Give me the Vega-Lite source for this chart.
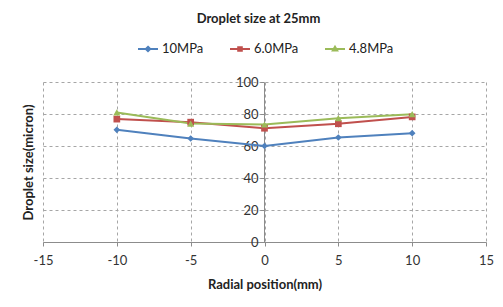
{
  "$schema": "https://vega.github.io/schema/vega-lite/v6.json",
  "width": 443,
  "height": 160,
  "autosize": {"type": "none"},
  "padding": {"left": 43, "top": 82, "right": 17, "bottom": 65},
  "background": "white",
  "config": {
    "font": "Lato",
    "view": {"stroke": null},
    "axis": {"labelFont": "Lato", "titleFont": "Lato", "labelColor": "#333333", "titleColor": "#222222"}
  },
  "title": {"text": "Droplet size at 25mm", "anchor": "middle", "font": "Lato", "fontSize": 13, "fontWeight": "bold", "color": "#222222", "offset": 12, "dx": -6},
  "data": {
    "values": [
      {"series": "10MPa", "x": -10, "y": 70.1},
      {"series": "10MPa", "x": -5, "y": 64.7},
      {"series": "10MPa", "x": 0, "y": 60.0},
      {"series": "10MPa", "x": 5, "y": 65.3},
      {"series": "10MPa", "x": 10, "y": 68.0},
      {"series": "6.0MPa", "x": -10, "y": 76.8},
      {"series": "6.0MPa", "x": -5, "y": 74.9},
      {"series": "6.0MPa", "x": 0, "y": 71.1},
      {"series": "6.0MPa", "x": 5, "y": 73.9},
      {"series": "6.0MPa", "x": 10, "y": 78.2},
      {"series": "4.8MPa", "x": -10, "y": 81.0},
      {"series": "4.8MPa", "x": -5, "y": 74.0},
      {"series": "4.8MPa", "x": 0, "y": 73.4},
      {"series": "4.8MPa", "x": 5, "y": 77.4},
      {"series": "4.8MPa", "x": 10, "y": 79.9}
    ]
  },
  "encoding": {
    "x": {
      "field": "x", "type": "quantitative",
      "scale": {"domain": [-15, 15], "nice": false, "zero": false},
      "axis": {
        "title": "Radial position(mm)", "titleFontSize": 13, "titleFontWeight": "bold", "titlePadding": 11,
        "values": [-15, -10, -5, 0, 5, 10, 15], "labelFontSize": 13, "labelPadding": 8,
        "labelExpr": "toString(datum.value)",
        "grid": true, "gridDash": [3, 3], "gridColor": "#a6a6a6", "gridOpacity": 1,
        "domainColor": "#8c8c8c", "tickColor": "#8c8c8c", "tickSize": 4,
        "labelFlush": false
      }
    },
    "y": {
      "field": "y", "type": "quantitative",
      "scale": {"domain": [0, 100], "nice": false},
      "axis": {
        "title": "Droplet size(micron)", "titleFontSize": 13, "titleFontWeight": "bold",
        "titleX": -236, "titleBaseline": "middle",
        "values": [0, 20, 40, 60, 80, 100], "labelFontSize": 13, "labelPadding": 2,
        "offset": -221,
        "grid": true, "gridDash": [3, 3], "gridColor": "#a6a6a6", "gridOpacity": 1,
        "domainColor": "#8c8c8c", "tickColor": "#8c8c8c", "tickSize": 4
      }
    },
    "color": {
      "field": "series", "type": "nominal",
      "scale": {"domain": ["10MPa", "6.0MPa", "4.8MPa"], "range": ["#4F81BD", "#C0504D", "#9BBB59"]},
      "legend": {
        "title": null, "orient": "none", "direction": "horizontal", "legendX": 94, "legendY": -44,
        "labelFontSize": 13, "labelFont": "Lato", "labelColor": "#222222",
        "symbolSize": 400, "symbolStrokeWidth": 2, "columnPadding": 22, "labelOffset": 3,
        "encode": {
          "symbols": {
            "update": {
              "shape": {"signal": "datum.value === '10MPa' ? 'M-1,0H1M0,-0.22L0.22,0L0,0.22L-0.22,0Z' : datum.value === '6.0MPa' ? 'M-1,0H1M-0.18,-0.18H0.18V0.18H-0.18Z' : 'M-1,0H1M0,-0.22L0.22,0.16H-0.22Z'"},
              "fill": {"signal": "scale('color', datum.value)"},
              "stroke": {"signal": "scale('color', datum.value)"},
              "strokeWidth": {"value": 2},
              "opacity": {"value": 1}
            }
          }
        }
      }
    }
  },
  "layer": [
    {"mark": {"type": "line", "strokeWidth": 2}},
    {
      "transform": [{"filter": "datum.series === '10MPa'"}],
      "mark": {"type": "point", "filled": true, "opacity": 1, "size": 45, "shape": "diamond"}
    },
    {
      "transform": [{"filter": "datum.series === '6.0MPa'"}],
      "mark": {"type": "point", "filled": true, "opacity": 1, "size": 45, "shape": "square"}
    },
    {
      "transform": [{"filter": "datum.series === '4.8MPa'"}],
      "mark": {"type": "point", "filled": true, "opacity": 1, "size": 50, "shape": "triangle-up"}
    }
  ]
}
